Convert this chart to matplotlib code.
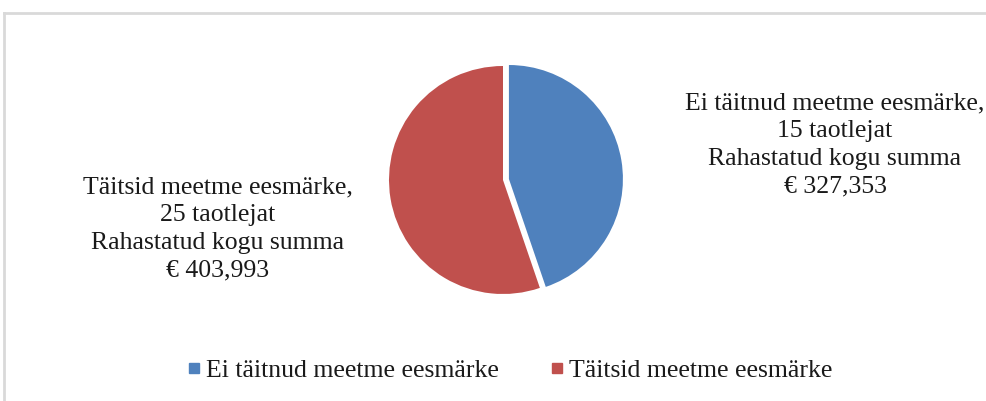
import matplotlib.pyplot as plt
from matplotlib.lines import Line2D

categories = ['Ei täitnud meetme eesmärke', 'Täitsid meetme eesmärke']
applicants = [15, 25]
amounts = [327353, 403993]
colors = ['#4F81BD', '#C0504D']

plt.rcParams['font.family'] = ['Liberation Serif', 'DejaVu Serif']

fig = plt.figure(figsize=(9.87, 4.01), dpi=100)
ax = fig.add_axes([0, 0, 1, 1])

# pixel-like coordinate system, y up; explode is in data units here
wedges, _ = ax.pie(amounts, colors=colors, startangle=90, counterclock=False,
                   explode=(6, 0), center=(503, 221), radius=114,
                   wedgeprops=dict(linewidth=0))
ax.set_xlim(0, 987)
ax.set_ylim(0, 401)
ax.set_aspect('equal')
ax.axis('off')

# outer chart frame (top and left edges visible)
ax.add_line(Line2D([4, 4], [0, 388], color='#d9d9d9', lw=2))
ax.add_line(Line2D([4, 987], [388, 388], color='#d9d9d9', lw=2))

def label_text(i):
    return (f'{categories[i]},\n{applicants[i]} taotlejat\n'
            f'Rahastatud kogu summa\n€ {amounts[i]:,}')

ax.text(835, 256, label_text(0), ha='center', va='center', fontsize=18.5,
        linespacing=1.33, color='#1a1a1a')
ax.text(218, 172, label_text(1), ha='center', va='center', fontsize=18.5,
        linespacing=1.33, color='#1a1a1a')

handles = [Line2D([], [], marker='s', linestyle='none', markersize=6.5,
                  markerfacecolor=c, markeredgecolor=c) for c in colors]
fig.legend(handles, categories, loc='center', bbox_to_anchor=(0.517, 0.076),
           ncol=2, frameon=False, fontsize=18.5, handlelength=0.45,
           handletextpad=0.25, columnspacing=2.0, labelcolor='#1a1a1a')

fig.savefig('out.png', dpi=100)
